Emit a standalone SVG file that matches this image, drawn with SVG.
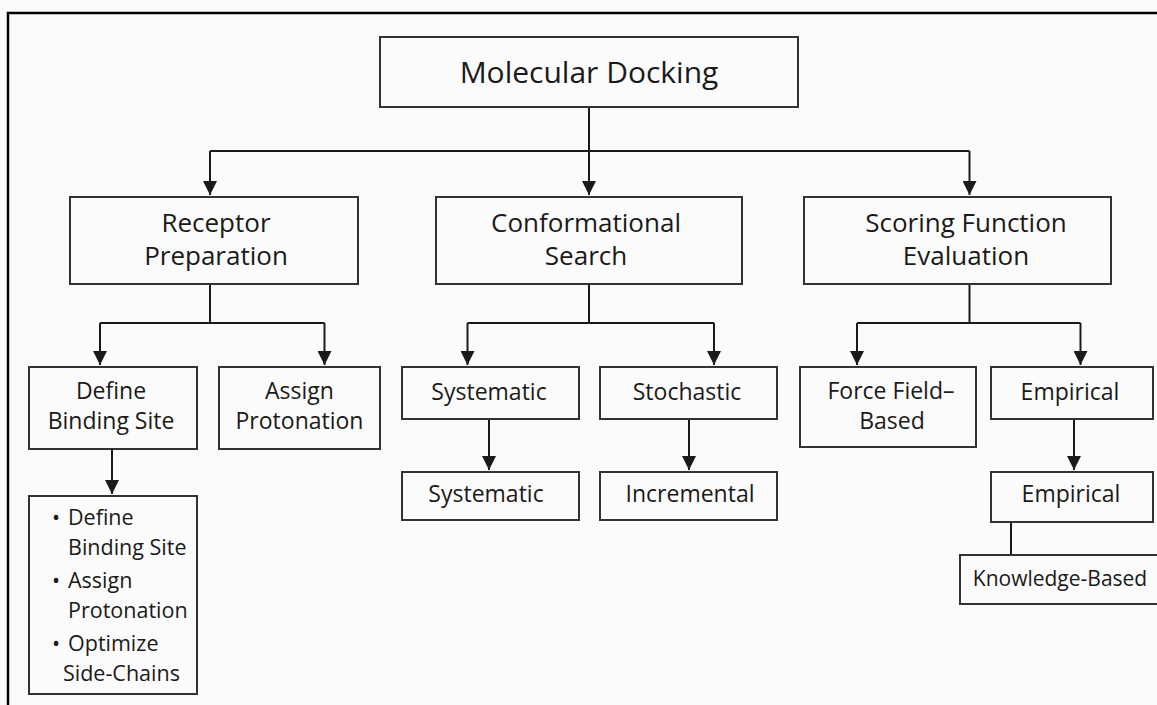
<svg xmlns="http://www.w3.org/2000/svg" width="1157" height="705" viewBox="0 0 1157 705">
<defs>
<marker id="arr" viewBox="0 0 14 14" markerWidth="14" markerHeight="14" markerUnits="userSpaceOnUse" refX="14" refY="7" orient="auto">
<path d="M0,0 L14,7 L0,14 Z" fill="#1a1a1a"/>
</marker>
<style>
.box{fill:#fbfbfb;stroke:#333;stroke-width:2}
.t{font-family:"Open Sans","Noto Sans","Liberation Sans",sans-serif;font-weight:500;fill:#1a1a1a;text-anchor:middle}
.h0{font-size:30px}
.h1{font-size:26px}
.h2{font-size:23px}
.h3{font-size:21px}
.hb{font-size:21.5px}
.c{fill:none;stroke:#1a1a1a;stroke-width:2}
.a{marker-end:url(#arr)}
.lst{text-anchor:start}
</style>
</defs>
<rect x="0" y="0" width="1157" height="705" fill="#fbfbfb"/>
<path d="M8,705 V13 H1157" fill="none" stroke="#000" stroke-width="2.5"/>

<g id="connectors">
<path class="c" d="M210,151 H969.5"/>
<path class="c a" d="M589,107 V195"/>
<path class="c a" d="M210,151 V195"/>
<path class="c a" d="M969.5,151 V195"/>

<path class="c" d="M210,284 V323 M100,323 H324.5"/>
<path class="c a" d="M100,323 V365"/>
<path class="c a" d="M324.5,323 V365"/>

<path class="c" d="M589,284 V323 M467.5,323 H714"/>
<path class="c a" d="M467.5,323 V365"/>
<path class="c a" d="M714,323 V365"/>

<path class="c" d="M969.5,284 V323 M857,323 H1080.5"/>
<path class="c a" d="M857,323 V365"/>
<path class="c a" d="M1080.5,323 V365"/>

<path class="c a" d="M112,449 V494"/>
<path class="c a" d="M489,419 V470"/>
<path class="c a" d="M689,419 V470"/>
<path class="c a" d="M1074,419 V470"/>
<path class="c" d="M1011,522 V555"/>
</g>

<g id="molecular-docking">
<rect class="box" x="380" y="37" width="418" height="70"/>
<text class="t h0" x="589" y="83">Molecular Docking</text>
</g>

<g id="receptor-preparation">
<rect class="box" x="70" y="197" width="288" height="87"/>
<text class="t h1" x="216" y="232">Receptor</text>
<text class="t h1" x="216" y="265">Preparation</text>
</g>

<g id="conformational-search">
<rect class="box" x="436" y="197" width="306" height="87"/>
<text class="t h1" x="586" y="232">Conformational</text>
<text class="t h1" x="586" y="265">Search</text>
</g>

<g id="scoring-function">
<rect class="box" x="804" y="197" width="307" height="87"/>
<text class="t h1" x="966" y="232">Scoring Function</text>
<text class="t h1" x="966" y="265">Evaluation</text>
</g>

<g id="define-binding-site">
<rect class="box" x="29" y="367" width="168" height="82"/>
<text class="t h2" x="111" y="399">Define</text>
<text class="t h2" x="111" y="429">Binding Site</text>
</g>

<g id="assign-protonation">
<rect class="box" x="219" y="367" width="161" height="82"/>
<text class="t h2" x="299.5" y="399">Assign</text>
<text class="t h2" x="299.5" y="429">Protonation</text>
</g>

<g id="systematic-1">
<rect class="box" x="402" y="367" width="177" height="52"/>
<text class="t h2" x="489" y="400">Systematic</text>
</g>

<g id="stochastic">
<rect class="box" x="600" y="367" width="177" height="52"/>
<text class="t h2" x="687" y="400">Stochastic</text>
</g>

<g id="force-field">
<rect class="box" x="800" y="367" width="176" height="80"/>
<text class="t h2" x="891" y="399">Force Field–</text>
<text class="t h2" x="892" y="429">Based</text>
</g>

<g id="empirical-1">
<rect class="box" x="991" y="367" width="162" height="52"/>
<text class="t h2" x="1070" y="400">Empirical</text>
</g>

<g id="bullet-list">
<rect class="box" x="29" y="496" width="168" height="198"/>
<text class="t hb lst" y="525"><tspan x="52">•</tspan><tspan x="68">Define</tspan></text>
<text class="t hb lst" x="68" y="555">Binding Site</text>
<text class="t hb lst" y="588"><tspan x="52">•</tspan><tspan x="68">Assign</tspan></text>
<text class="t hb lst" x="68" y="618">Protonation</text>
<text class="t hb lst" y="651"><tspan x="52">•</tspan><tspan x="68">Optimize</tspan></text>
<text class="t hb lst" x="63" y="681">Side-Chains</text>
</g>

<g id="systematic-2">
<rect class="box" x="402" y="472" width="177" height="48"/>
<text class="t h2" x="486" y="502">Systematic</text>
</g>

<g id="incremental">
<rect class="box" x="600" y="472" width="177" height="48"/>
<text class="t h2" x="690" y="502">Incremental</text>
</g>

<g id="empirical-2">
<rect class="box" x="991" y="472" width="162" height="50"/>
<text class="t h2" x="1071" y="502">Empirical</text>
</g>

<g id="knowledge-based">
<rect class="box" x="960" y="555" width="205" height="49"/>
<text class="t h3" x="1060" y="586">Knowledge-Based</text>
</g>
</svg>
